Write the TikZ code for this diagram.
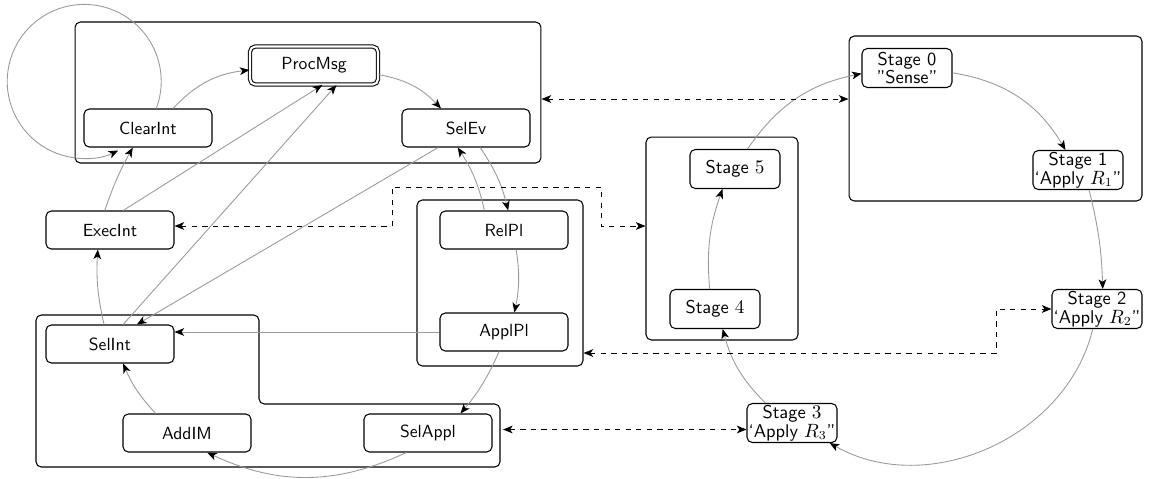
\documentclass[tikz,border=0pt]{standalone}
\usetikzlibrary{arrows.meta}

\begin{document}
\begin{tikzpicture}[x=0.02cm, y=0.02cm,
    every node/.style={font=\sffamily},
    phase/.style={draw, semithick, rounded corners=3pt, minimum width=2.56cm, minimum height=0.76cm, inner sep=1pt},
    stage/.style={draw, semithick, rounded corners=3pt, minimum width=1.8cm, minimum height=0.78cm, inner sep=0.5pt, align=center, font=\sffamily\fontsize{10.5}{7.5}\selectfont},
    group/.style={draw, semithick, rounded corners=3pt},
    cyc/.style={draw=gray!80, line width=0.5pt, -{Stealth[color=black, length=5.5pt, width=4.4pt, inset=1.5pt]}},
    link/.style={dashed, line width=0.55pt, {Stealth[length=5.5pt, width=4.4pt, inset=1.5pt]}-{Stealth[length=5.5pt, width=4.4pt, inset=1.5pt]}}]
    \useasboundingbox (0,0) rectangle (1149,-478);

    % Containers
    \node[group, minimum width=9.32cm, minimum height=2.82cm] (jasonbox) at (308,-92.5) {};
    \node[group, minimum width=3.32cm, minimum height=3.32cm] (planbox) at (500,-283) {};
    \node[group, minimum width=3.04cm, minimum height=4.06cm] (backbox) at (722,-238.5) {};
    \node[group, minimum width=5.86cm, minimum height=3.3cm] (frontbox) at (995.5,-118.5) {};
    \draw[semithick, rounded corners=3pt] (36,-315) -- (259,-315) -- (259,-404) -- (500,-404) -- (500,-467) -- (36,-467) -- cycle;
    \coordinate (intbox) at (503,-429.5);

    % Reasoning cycle
    \node[phase, double, double distance=1.2pt] (ProcMsg) at (314,-65.5) {ProcMsg};
    \node[phase] (ClearInt) at (148,-128) {ClearInt};
    \node[phase] (SelEv) at (466,-128) {SelEv};
    \node[phase] (ExecInt) at (110,-230) {ExecInt};
    \node[phase] (RelPl) at (504,-230) {RelPl};
    \node[phase] (ApplPl) at (504,-332) {ApplPl};
    \node[phase] (SelInt) at (110,-344) {SelInt};
    \node[phase] (AddIM) at (187,-433) {AddIM};
    \node[phase] (SelAppl) at (428,-433) {SelAppl};

    % Stages
    \node[stage] (Stage0) at (907,-68) {Stage 0\\"Sense"};
    \node[stage] (Stage1) at (1078,-170) {Stage 1\\`Apply $R_1$"};
    \node[stage] (Stage2) at (1097,-309) {Stage 2\\`Apply $R_2$"};
    \node[stage] (Stage3) at (792,-423) {Stage $3$\\`Apply $R_3$"};
    \node[stage] (Stage4) at (715,-309) {Stage $4$};
    \node[stage] (Stage5) at (735,-169) {Stage $5$};

    % Cycle edges
    \draw[cyc] (ClearInt.38) to[bend left=20] (ProcMsg.184);
    \draw[cyc] (ProcMsg.-8) to[bend left=18] (SelEv.142);
    \draw[cyc] (SelEv.-54) to[bend left=10] (RelPl.78);
    \draw[cyc] (RelPl.-58) to[bend left=10] (ApplPl.62);
    \draw[cyc] (ApplPl.-104) to[bend left=8] (SelAppl.31);
    \draw[cyc] (SelAppl.222) to[bend left=25] (AddIM.316);
    \draw[cyc] (AddIM.148) to[bend left=10] (SelInt.-56);
    \draw[cyc] (SelInt.107) to[bend left=8] (ExecInt.238);
    \draw[cyc] (ExecInt.105) to[bend left=5] (ClearInt.232);
    \draw[cyc] (ClearInt.67) arc[start angle=-20.6, end angle=296.2, radius=1.54cm];
    \draw[cyc] (ExecInt.56) -- (ProcMsg.-67);
    \draw[cyc] (SelInt.56) -- (ProcMsg.-41);
    \draw[cyc] (SelEv.215) -- (SelInt.36);
    \draw[cyc] (RelPl.135) to[bend right=10] (SelEv.247);
    \draw[cyc] (ApplPl.west) -- (ApplPl.west -| SelInt.east);

    % Stage edges
    \draw[cyc] (Stage0.-6) to[bend left=25] (Stage1.122);
    \draw[cyc] (Stage1.-61) to[bend left=6] (Stage2.74);
    \draw[cyc] (Stage2.258) to[bend left=53] (Stage3.-28);
    \draw[cyc] (Stage3.143) to[bend left=15] (Stage4.-69);
    \draw[cyc] (Stage4.105) to[bend left=12] (Stage5.238);
    \draw[cyc] (Stage5.58) to[bend left=22] (Stage0.187);

    % Links
    \draw[link] (jasonbox.east |- 0,-99) -- (frontbox.west |- 0,-99);
    \draw[link] (ExecInt.east |- 0,-226) -| (392,-187) -| (601,-226) -- (backbox.west |- 0,-226);
    \draw[link] (planbox.east |- 0,-353) -| (996,-309) -- (Stage2.west);
    \draw[link] (intbox) -- (Stage3.west |- intbox);
\end{tikzpicture}
\end{document}
